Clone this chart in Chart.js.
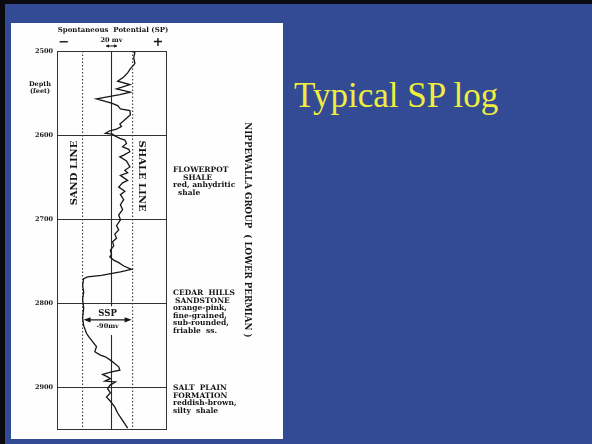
<!DOCTYPE html>
<html>
<head>
<meta charset="utf-8">
<script src="https://cdn.jsdelivr.net/npm/chart.js@4/dist/chart.umd.min.js"></script>
<style>
  html, body { margin: 0; padding: 0; }
  body { width: 592px; height: 444px; background: #334a95; position: relative; overflow: hidden; }
  #topbar { position: absolute; left: 0; top: 0; width: 592px; height: 4px; background: #0a0a10; }
  #leftbar { position: absolute; left: 0; top: 0; width: 5px; height: 444px; background: #0a0a10; }
  #panel { position: absolute; left: 11px; top: 23px; width: 272px; height: 416px; background: #fefefe; }
  #title { position: absolute; left: 294px; top: 78px; color: #f0ee3c; font-family: "Liberation Serif", serif;
           font-size: 35px; line-height: 35px; white-space: nowrap; }
  #wrap { position: absolute; left: 0; top: 0; width: 592px; height: 444px; }
</style>
</head>
<body>
<div id="topbar"></div>
<div id="leftbar"></div>
<div id="panel"></div>
<div id="title">Typical SP log</div>
<div id="wrap"><canvas id="c" width="592" height="444"></canvas></div>
<script>
// Depth track (feet) and SP scale (mV, measured from the shale line)
const depthTicks = [2500, 2600, 2700, 2800, 2900];
const depthTop = 2500;
const depthBottom = 2950;
const mvMin = -136;
const mvMax = 60;
const shaleLineMv = 0;
const sandLineMv = -90;
const refLineMv = -38;
const ssp = -90;
const sspDepth = 2820;

// SP curve: depth (ft) and deflection (mV)
const spDepth = [
  2500, 2502, 2508, 2515, 2521, 2526, 2531, 2536, 2540, 2545,
  2549, 2552, 2557, 2562, 2565, 2569, 2571, 2576, 2580, 2583,
  2587, 2590, 2593, 2595, 2598, 2599, 2601, 2604, 2606, 2610,
  2614, 2617, 2620, 2624, 2626, 2631, 2638, 2642, 2645, 2648,
  2654, 2657, 2662, 2667, 2671, 2677, 2683, 2689, 2695, 2701,
  2708, 2713, 2718, 2723, 2727, 2732, 2737, 2742, 2745, 2749,
  2752, 2756, 2760, 2763, 2767, 2769, 2771, 2779, 2787, 2796,
  2806, 2818, 2827, 2836, 2840, 2846, 2852, 2858, 2862, 2864,
  2868, 2871, 2876, 2880, 2882, 2885, 2888, 2890, 2893, 2894,
  2898, 2902, 2907, 2912, 2917, 2924, 2931, 2938, 2944, 2949
];
const spMv = [
  0, 4, 2, 4, -4, -9, -16, -27, -5, -29,
  -4, -23, -65, -38, -27, -22, -5, -4, -11, -16,
  -23, -20, -29, -41, -49, -36, -32, -23, -14, -11,
  -18, -7, -5, -16, -23, -11, -5, -14, -9, -22,
  -9, -18, -25, -14, -22, -16, -22, -18, -25, -22,
  -29, -25, -32, -29, -36, -34, -40, -38, -41, -34,
  -25, -16, -2, -22, -56, -81, -88, -90, -88, -90,
  -88, -90, -88, -83, -79, -72, -65, -68, -58, -49,
  -40, -34, -25, -23, -38, -54, -45, -40, -50, -31,
  -41, -45, -40, -47, -40, -32, -27, -20, -14, -9
];

// Formation notes beside the track
const flowerpotNotes = ['FLOWERPOT', 'SHALE', 'red, anhydritic', 'shale'];
const cedarHillsNotes = ['CEDAR  HILLS', 'SANDSTONE', 'orange-pink,', 'fine-grained,', 'sub-rounded,', 'friable  ss.'];
const saltPlainNotes = ['SALT  PLAIN', 'FORMATION', 'reddish-brown,', 'silty  shale'];
const groupLabel = 'NIPPEWALLA GROUP  ( LOWER PERMIAN )';

const ink = '#161616';
const serif = '"DejaVu Serif", "Liberation Serif", serif';

const spPoints = spDepth.map((d, i) => ({ x: spMv[i], y: d }));
const vline = (mv) => [{ x: mv, y: depthTop }, { x: mv, y: depthBottom }];

const annotations = {
  id: 'annotations',
  afterDraw(chart) {
    const { ctx } = chart;
    const xs = chart.scales.x, ys = chart.scales.y;
    const px = (v) => xs.getPixelForValue(v);
    const py = (v) => ys.getPixelForValue(v);
    const text = (s, x, y, size, align = 'center', rot = 0) => {
      ctx.save();
      ctx.translate(x, y);
      ctx.rotate(rot);
      ctx.font = 'bold ' + size + 'px ' + serif;
      ctx.textAlign = align;
      ctx.textBaseline = 'middle';
      ctx.fillStyle = ink;
      ctx.fillText(s, 0, 0);
      ctx.restore();
    };
    const arrowHead = (x, y, dir, len, half) => {
      ctx.beginPath();
      ctx.moveTo(x, y);
      ctx.lineTo(x - dir * len, y - half);
      ctx.lineTo(x - dir * len, y + half);
      ctx.closePath();
      ctx.fill();
    };
    ctx.save();
    ctx.fillStyle = ink;
    ctx.strokeStyle = ink;

    // header
    text('Spontaneous  Potential (SP)', 113, 30, 7);
    text('\u2212', 64, 43, 13);
    text('+', 158, 43, 13);
    text('20 mv', px(refLineMv), 40, 6.5);
    const aL = px(refLineMv - 10), aR = px(refLineMv + 10), aY = 46;
    ctx.lineWidth = 1;
    ctx.beginPath(); ctx.moveTo(aL, aY); ctx.lineTo(aR, aY); ctx.stroke();
    arrowHead(aL, aY, -1, 3, 1.8);
    arrowHead(aR, aY, 1, 3, 1.8);

    // depth caption
    text('Depth', 40, 84, 6.5);
    text('(feet)', 40, 91, 6.5);

    // baseline names
    text('SAND LINE', px(sandLineMv) - 8, 173, 10, 'center', -Math.PI / 2);
    text('SHALE LINE', px(shaleLineMv) + 9, 176, 10, 'center', Math.PI / 2);

    // static SP arrow
    const sy = py(sspDepth);
    const sL = px(ssp) + 1, sR = px(shaleLineMv) - 1;
    ctx.lineWidth = 1.2;
    ctx.beginPath(); ctx.moveTo(sL + 5, sy); ctx.lineTo(sR - 5, sy); ctx.stroke();
    arrowHead(sL, sy, -1, 7, 2.6);
    arrowHead(sR, sy, 1, 7, 2.6);
    const sMid = (sL + sR) / 2;
    text('SSP', sMid, sy - 6, 8.5);
    text(ssp + 'mv', sMid, sy + 7, 6.5);

    // formation notes
    const block = (lines, yTop, xs0) => {
      lines.forEach((s, i) => text(s, xs0[i], yTop + i * 7.6, 7.5, 'left'));
    };
    block(flowerpotNotes, 170, [173, 183, 173, 178]);
    block(cedarHillsNotes, 293, [173, 175, 173, 173, 173, 173]);
    block(saltPlainNotes, 388, [173, 173, 173, 173]);

    text(groupLabel, 247, 230, 8.7, 'center', Math.PI / 2);
    ctx.restore();
  }
};

new Chart(document.getElementById('c'), {
  type: 'scatter',
  data: {
    datasets: [
      { data: spPoints, showLine: true, borderColor: ink, borderWidth: 1.3, pointRadius: 0, tension: 0 },
      { data: vline(sandLineMv), showLine: true, borderColor: '#3a3a3a', borderWidth: 1.1, borderDash: [1.5, 2], pointRadius: 0 },
      { data: vline(shaleLineMv), showLine: true, borderColor: '#3a3a3a', borderWidth: 1.1, borderDash: [1.5, 2], pointRadius: 0 },
      { data: [{ x: refLineMv, y: depthTop }, { x: refLineMv, y: 2804 }, { x: refLineMv, y: null },
               { x: refLineMv, y: 2838 }, { x: refLineMv, y: depthBottom }],
        showLine: true, spanGaps: false, borderColor: '#2a2a2a', borderWidth: 1.1, pointRadius: 0 }
    ]
  },
  options: {
    responsive: false,
    animation: false,
    events: [],
    layout: { padding: { left: 0, right: 426, top: 51, bottom: 15 } },
    plugins: { legend: { display: false }, tooltip: { enabled: false } },
    scales: {
      x: {
        type: 'linear', min: mvMin, max: mvMax, position: 'bottom',
        ticks: { display: false },
        grid: { color: '#333', lineWidth: 1, drawTicks: false },
        border: { display: true, color: '#333', width: 1 },
        afterBuildTicks(s) { s.ticks = [{ value: mvMin }, { value: mvMax }]; },
        afterFit(s) { s.height = 0; }
      },
      y: {
        type: 'linear', reverse: true, min: depthTop, max: depthBottom,
        ticks: {
          padding: 4, color: ink, font: { family: serif, size: 6.5, weight: 'bold' },
          callback: (v) => depthTicks.includes(v) ? String(v) : ''
        },
        grid: { color: '#333', lineWidth: 1, drawTicks: false },
        border: { display: true, color: '#333', width: 1 },
        afterBuildTicks(s) { s.ticks = depthTicks.concat([depthBottom]).map(v => ({ value: v })); },
        afterFit(s) { s.width = 57; }
      }
    }
  },
  plugins: [annotations]
});
</script>
</body>
</html>
